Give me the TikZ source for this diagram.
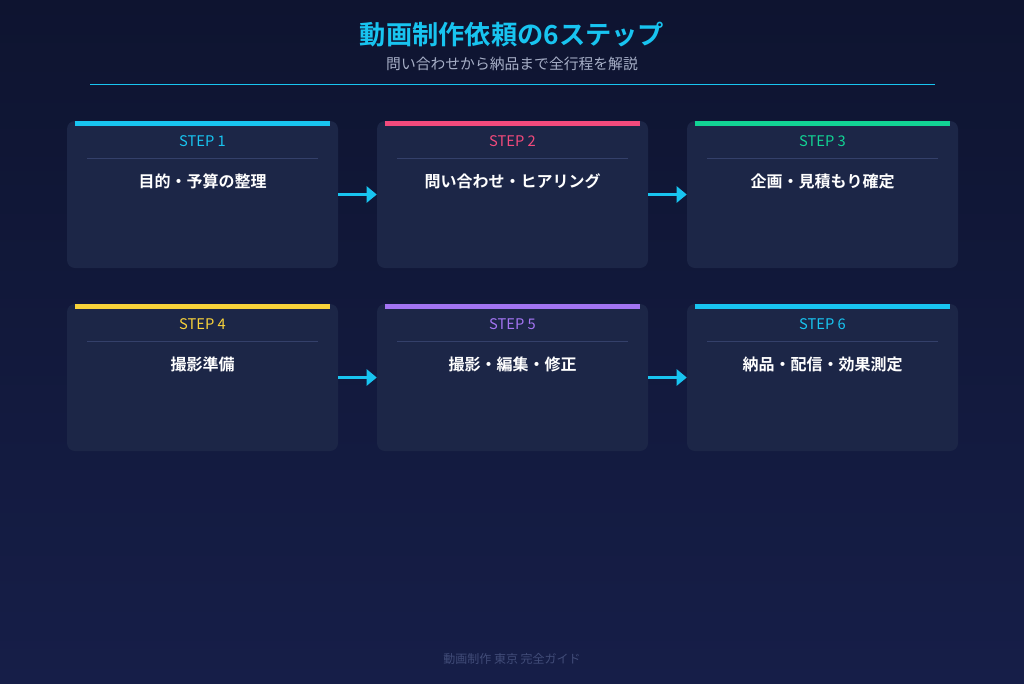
\documentclass[tikz,border=0pt]{standalone}
\usepackage{fontspec}
\setmainfont{Noto Sans CJK JP}[BoldFont={Noto Sans CJK JP Bold}]
\usetikzlibrary{arrows.meta,positioning}
\definecolor{bgtop}{HTML}{0E1430}
\definecolor{bgbot}{HTML}{161E48}
\definecolor{cardbg}{HTML}{1C2647}
\definecolor{sepline}{HTML}{34406A}
\definecolor{cyanc}{HTML}{18C4F0}
\definecolor{pinkc}{HTML}{F24A7C}
\definecolor{greenc}{HTML}{12D394}
\definecolor{yellowc}{HTML}{F8D23A}
\definecolor{purplec}{HTML}{A374F2}
\definecolor{subgray}{HTML}{A6AEC6}
\definecolor{footgray}{HTML}{414C78}
\tikzset{
  card/.style={fill=cardbg,rounded corners=6pt,minimum width=203.25pt,minimum height=110.25pt,inner sep=0pt},
  topbar/.style={fill=#1,minimum width=191.25pt,minimum height=3.75pt,inner sep=0pt},
  steplbl/.style={text=#1,font=\fontsize{11pt}{13pt}\selectfont,inner sep=0pt},
  steptitle/.style={text=white,font=\bfseries\fontsize{12pt}{14pt}\selectfont,inner sep=0pt},
  arr/.style={draw=cyanc,line width=1.6pt,-{Triangle[length=7.5pt,width=12pt]}}
}
\begin{document}
\begin{tikzpicture}[x=0.75pt,y=-0.75pt]
\shade[top color=bgtop,bottom color=bgbot] (0,0) rectangle (1024,683);
\useasboundingbox (0,0) rectangle (1024,683);
% heading
\node[text=cyanc,font=\bfseries\fontsize{19.7pt}{24pt}\selectfont] (title) at (512,35) {動画制作依頼の6ステップ};
\node[text=subgray,font=\fontsize{11.1pt}{13pt}\selectfont] (subtitle) at (512,64) {問い合わせから納品まで全行程を解説};
\coordinate (hl) at (90,84);
\coordinate (hr) at (935,84);
\draw[cyanc,line width=0.75pt] (hl) -- (hr);
% row 1
\node[card] (c1) at (202.5,194.5) {};
\node[topbar=cyanc] (b1) at (202.5,123) {};
\node[steplbl=cyanc] (l1) at (202.5,141) {STEP 1};
\draw[sepline,line width=0.6pt] (87,158) -- (318,158);
\node[steptitle] (t1) at (202.5,181) {目的・予算の整理};
\node[card] (c2) at (512.5,194.5) {};
\node[topbar=pinkc] (b2) at (512.5,123) {};
\node[steplbl=pinkc] (l2) at (512.5,141) {STEP 2};
\draw[sepline,line width=0.6pt] (397,158) -- (628,158);
\node[steptitle] (t2) at (512.5,181) {問い合わせ・ヒアリング};
\node[card] (c3) at (822.5,194.5) {};
\node[topbar=greenc] (b3) at (822.5,123) {};
\node[steplbl=greenc] (l3) at (822.5,141) {STEP 3};
\draw[sepline,line width=0.6pt] (707,158) -- (938,158);
\node[steptitle] (t3) at (822.5,181) {企画・見積もり確定};
\draw[arr] (c1.east) -- (c2.west);
\draw[arr] (c2.east) -- (c3.west);
% row 2
\node[card] (c4) at (202.5,377.5) {};
\node[topbar=yellowc] (b4) at (202.5,306) {};
\node[steplbl=yellowc] (l4) at (202.5,324) {STEP 4};
\draw[sepline,line width=0.6pt] (87,341) -- (318,341);
\node[steptitle] (t4) at (202.5,364) {撮影準備};
\node[card] (c5) at (512.5,377.5) {};
\node[topbar=purplec] (b5) at (512.5,306) {};
\node[steplbl=purplec] (l5) at (512.5,324) {STEP 5};
\draw[sepline,line width=0.6pt] (397,341) -- (628,341);
\node[steptitle] (t5) at (512.5,364) {撮影・編集・修正};
\node[card] (c6) at (822.5,377.5) {};
\node[topbar=cyanc] (b6) at (822.5,306) {};
\node[steplbl=cyanc] (l6) at (822.5,324) {STEP 6};
\draw[sepline,line width=0.6pt] (707,341) -- (938,341);
\node[steptitle] (t6) at (822.5,364) {納品・配信・効果測定};
\draw[arr] (c4.east) -- (c5.west);
\draw[arr] (c5.east) -- (c6.west);
% footer
\node[text=footgray,font=\fontsize{9pt}{11pt}\selectfont] (foot) at (512,659) {動画制作 東京 完全ガイド};
\end{tikzpicture}
\end{document}
